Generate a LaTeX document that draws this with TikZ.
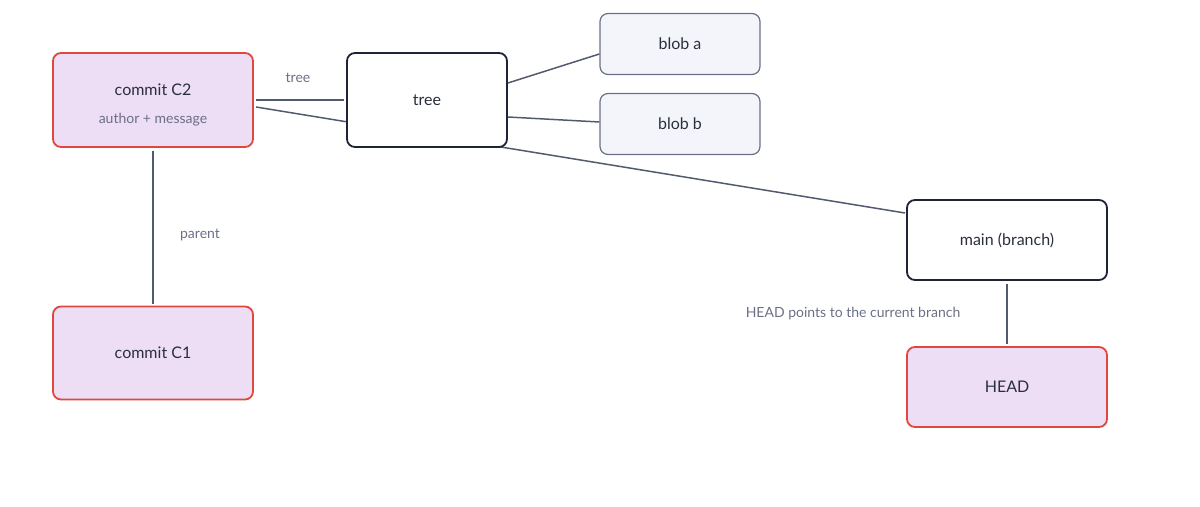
\documentclass[tikz,border=0pt]{standalone}
\usepackage{fontspec}
\setmainfont{Lato}
\definecolor{redb}{HTML}{E0483E}
\definecolor{lav}{HTML}{EDDDF5}
\definecolor{dark}{HTML}{1E2435}
\definecolor{ln}{HTML}{525B6E}
\definecolor{blobf}{HTML}{F3F5FA}
\definecolor{blobb}{HTML}{6B7085}
\definecolor{txt}{HTML}{2A2F3D}
\definecolor{lbl}{HTML}{6B7085}
\begin{document}
\begin{tikzpicture}[x=0.5pt,y=-0.5pt,
  box/.style={rounded corners=4pt,line width=0.9pt,inner sep=0pt,font=\fontsize{8}{10}\selectfont,text=txt},
  commit/.style={box,draw=redb,fill=lav,minimum width=100pt,minimum height=47pt},
  plain/.style={box,draw=dark,fill=white,minimum width=80pt,minimum height=47pt},
  blob/.style={box,draw=blobb,fill=blobf,line width=0.6pt,minimum width=80pt,minimum height=30.5pt},
  ref/.style={box,draw=dark,fill=white,minimum width=100pt,minimum height=40pt},
  head/.style={box,draw=redb,fill=lav,minimum width=100pt,minimum height=40pt},
  conn/.style={draw=ln,line width=0.75pt},
  lab/.style={font=\fontsize{7}{9}\selectfont,text=lbl}]
\useasboundingbox (0,0) rectangle (1200,507);
\draw[conn] (256,107) coordinate (s1) -- (905,213) coordinate (e1);
\node[commit] (c2) at (153,100) {};
\node[font=\fontsize{8}{10}\selectfont,text=txt] (c2t) at (153,90) {commit C2};
\node[lab] (c2s) at (153,120) {author + message};
\node[plain] (tree) at (427,100) {tree};
\node[blob] (ba) at (680,44) {blob a};
\node[blob] (bb) at (680,124) {blob b};
\node[ref] (main) at (1007,240) {main (branch)};
\node[commit,minimum height=46.5pt] (c1) at (153,353) {commit C1};
\node[head] (head) at (1007,387) {HEAD};
\draw[conn] ([xshift=1pt]c2.east) -- ([xshift=-1pt]tree.west);
\node[lab] (tl) at (298,78) {tree};
\draw[conn] ([yshift=8.5pt]tree.east) -- ([yshift=-5pt]ba.west);
\draw[conn] ([yshift=-8.5pt]tree.east) -- ([yshift=1pt]bb.west);
\draw[conn] ([yshift=-1.5pt]c2.south) -- ([yshift=1pt]c1.north);
\node[lab] (pl) at (200,235) {parent};
\draw[conn] ([yshift=-1.5pt]main.south) -- ([yshift=1pt]head.north);
\node[lab] (hl) at (853,314) {HEAD points to the current branch};
\end{tikzpicture}
\end{document}
